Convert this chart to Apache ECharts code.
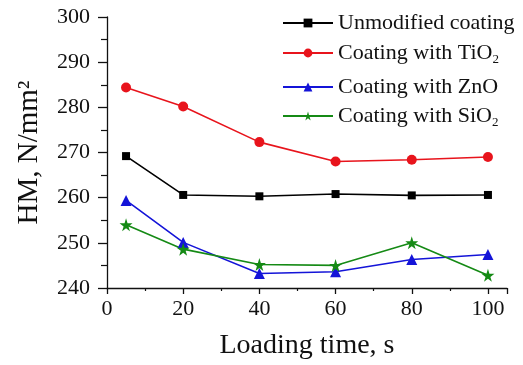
<!DOCTYPE html>
<html>
<head>
<meta charset="utf-8">
<script src="https://cdn.jsdelivr.net/npm/echarts@6/dist/echarts.min.js"></script>
<style>html,body{margin:0;padding:0;background:#fff;}#c{width:523px;height:365px;}</style>
</head>
<body>
<div id="c"></div>
<script>
var times = [5, 20, 40, 60, 80, 100];
var unmodified = [269.2, 260.6, 260.3, 260.8, 260.5, 260.6];
var tio2 = [284.4, 280.2, 272.3, 268.0, 268.4, 269.0];
var zno = [259.4, 250.1, 243.2, 243.6, 246.3, 247.4];
var sio2 = [254.0, 248.6, 245.2, 245.0, 250.0, 242.8];
var seriesNames = ['Unmodified coating', 'Coating with TiO2', 'Coating with ZnO', 'Coating with SiO2'];
var legendLabels = ['Unmodified coating', 'Coating with TiO{s|2}', 'Coating with ZnO', 'Coating with SiO{s|2}'];
var yTicks = [240, 250, 260, 270, 280, 290, 300];
var xTicks = [0, 20, 40, 60, 80, 100];

var FONT = '"Liberation Serif", "Times New Roman", serif';
var STAR = 'path://M50,0 L61,35 L98,35 L68,57 L79,91 L50,70 L21,91 L32,57 L2,35 L39,35 Z';
var colors = ['#000000', '#e8141c', '#1414d8', '#158a15'];
var symbols = ['rect', 'circle', 'triangle', STAR];
var sizes = [8, 10, 11, 13];
var dataSets = [unmodified, tio2, zno, sio2];
var legendTops = [23, 53, 87, 116];

function pairs(v) { return times.map(function (t, i) { return [t, v[i]]; }); }

var series = dataSets.map(function (d, i) {
  return {
    name: seriesNames[i], type: 'line', data: pairs(d),
    symbol: symbols[i], symbolSize: sizes[i],
    lineStyle: { color: colors[i], width: 1.6 },
    itemStyle: { color: colors[i] },
    animation: false
  };
});

var legends = seriesNames.map(function (n, i) {
  return {
    data: [n], left: 282, top: legendTops[i] - 11, orient: 'vertical',
    itemWidth: 50, itemHeight: 11, itemGap: 0, padding: 0,
    formatter: function () { return legendLabels[i]; },
    textStyle: { fontFamily: FONT, fontSize: 22, color: '#111',
      rich: { s: { fontFamily: FONT, fontSize: 13, color: '#111', padding: [14, 0, 0, 0] } } }
  };
});

var option = {
  backgroundColor: '#fff',
  animation: false,
  color: colors,
  legend: legends,
  grid: { left: 107, right: 16, top: 17, bottom: 77, containLabel: false },
  xAxis: {
    type: 'value', min: 0, max: 105, interval: 20,
    name: 'Loading time, s', nameLocation: 'middle', nameGap: 44,
    nameTextStyle: { fontFamily: FONT, fontSize: 28, color: '#111' },
    axisLine: { show: true, lineStyle: { color: '#111', width: 1.3 } },
    axisTick: { show: true, inside: false, length: 6, lineStyle: { color: '#111', width: 1.3 } },
    minorTick: { show: true, splitNumber: 2, length: 3, lineStyle: { color: '#111', width: 1.2 } },
    splitLine: { show: false },
    axisLabel: { margin: 10, fontFamily: FONT, fontSize: 22, color: '#111',
      formatter: function (v) { return xTicks.indexOf(v) >= 0 ? String(v) : ''; } }
  },
  yAxis: {
    type: 'value', min: 240, max: 300, interval: 10,
    name: 'HM, N/mm\u00B2', nameLocation: 'middle', nameGap: 63, nameRotate: 90,
    nameTextStyle: { fontFamily: FONT, fontSize: 29, color: '#111' },
    axisLine: { show: true, lineStyle: { color: '#111', width: 1.3 } },
    axisTick: { show: true, inside: false, length: 9, lineStyle: { color: '#111', width: 1.3 } },
    minorTick: { show: true, splitNumber: 2, length: 6, lineStyle: { color: '#111', width: 1.2 } },
    splitLine: { show: false },
    axisLabel: { margin: 17, fontFamily: FONT, fontSize: 22, color: '#111',
      formatter: function (v) { return yTicks.indexOf(v) >= 0 ? String(v) : ''; } }
  },
  series: series
};
var chart = echarts.init(document.getElementById('c'), null, { renderer: 'canvas' });
chart.setOption(option);
</script>
</body>
</html>
